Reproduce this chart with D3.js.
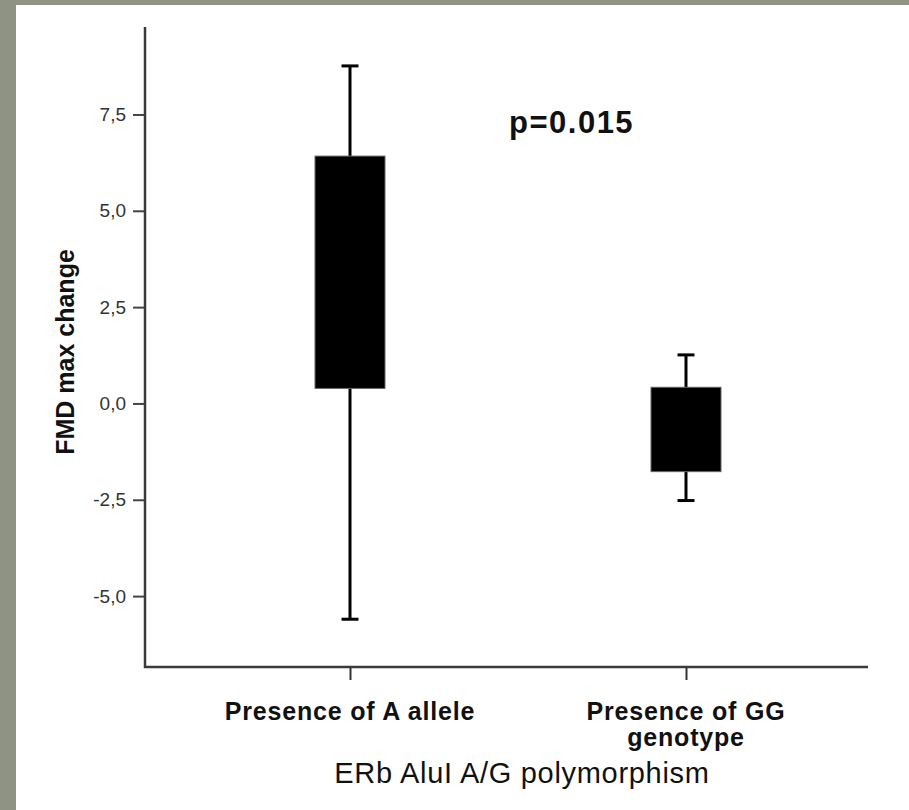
<!DOCTYPE html>
<html>
<head>
<meta charset="utf-8">
<script src="https://cdnjs.cloudflare.com/ajax/libs/d3/7.8.5/d3.min.js"></script>
<style>
  body { margin: 0; padding: 0; background: #8e9383; }
  svg { display: block; }
  .tick text { font-family: "Liberation Sans", Arial, sans-serif; }
</style>
</head>
<body>
<div id="chart"></div>
<script>
// data
var groups = ['Presence of A allele', 'Presence of GG genotype'];
var groupLines = [['Presence of A allele'], ['Presence of GG', 'genotype']];
var whiskerLow = [-5.6, -2.52];
var boxLow = [0.39, -1.77];
var boxHigh = [6.42, 0.42];
var whiskerHigh = [8.76, 1.26];
var yTicks = [-5, -2.5, 0, 2.5, 5, 7.5];
var pLabel = 'p=0.015';

var W = 909, H = 810;
var margin = { top: 27, right: 41, bottom: 143, left: 145 };
var width = W - margin.left - margin.right,
    height = H - margin.top - margin.bottom;

var svg = d3.select('#chart').append('svg')
  .attr('width', W)
  .attr('height', H);

// white panel on the grey frame
svg.append('rect')
  .attr('x', 16).attr('y', 5)
  .attr('width', W - 16).attr('height', H - 5)
  .attr('fill', '#ffffff');

var g = svg.append('g')
  .attr('transform', 'translate(' + margin.left + ',' + margin.top + ')');

var y = d3.scaleLinear().domain([-6.84, 9.77]).range([height, 0]);
var x = d3.scalePoint().domain(groups).range([205, 541]);

// SPSS style: comma decimals, plain hyphen for negatives
var fmt = function(d) { return d3.format('.1f')(d).replace('.', ',').replace('\u2212', '-'); };

// y axis
var yAxis = g.append('g')
  .attr('class', 'axis axis--y')
  .call(d3.axisLeft(y).tickValues(yTicks).tickFormat(fmt).tickSize(12).tickPadding(7));
yAxis.select('.domain').remove();
yAxis.selectAll('.tick line').attr('stroke', '#444').attr('stroke-width', 2);
yAxis.selectAll('.tick text')
  .attr('fill', '#333')
  .style('font-size', '19px');

// x axis
var xAxis = g.append('g')
  .attr('class', 'axis axis--x')
  .attr('transform', 'translate(0,' + height + ')')
  .call(d3.axisBottom(x).tickSize(13).tickFormat(''));
xAxis.select('.domain').remove();
xAxis.selectAll('.tick line').attr('stroke', '#333').attr('stroke-width', 2);

// axis lines (L shape)
g.append('path')
  .attr('d', 'M0,0V' + height + 'H' + width)
  .attr('fill', 'none')
  .attr('stroke', '#3a3a3a')
  .attr('stroke-width', 2.5);

// category labels
groupLines.forEach(function(lines, i) {
  var t = g.append('text')
    .attr('x', x(groups[i]))
    .attr('y', height + 53)
    .attr('text-anchor', 'middle')
    .style('font-family', '"Liberation Sans", Arial, sans-serif')
    .style('font-weight', 'bold')
    .style('font-size', '25px')
    .style('letter-spacing', '0.8px')
    .attr('fill', '#111');
  lines.forEach(function(l, j) {
    t.append('tspan')
      .attr('x', x(groups[i]))
      .attr('dy', j == 0 ? 0 : 26)
      .text(l);
  });
});

// boxes
var boxW = 70, capW = 17;
groups.forEach(function(k, i) {
  var cx = x(k);
  g.append('line')
    .attr('x1', cx).attr('x2', cx)
    .attr('y1', y(whiskerLow[i])).attr('y2', y(whiskerHigh[i]))
    .attr('stroke', '#000').attr('stroke-width', 3);
  [whiskerLow[i], whiskerHigh[i]].forEach(function(v) {
    g.append('line')
      .attr('x1', cx - capW / 2).attr('x2', cx + capW / 2)
      .attr('y1', y(v)).attr('y2', y(v))
      .attr('stroke', '#000').attr('stroke-width', 3);
  });
  g.append('rect')
    .attr('x', cx - boxW / 2)
    .attr('y', y(boxHigh[i]))
    .attr('width', boxW)
    .attr('height', y(boxLow[i]) - y(boxHigh[i]))
    .attr('fill', '#000')
    .attr('stroke', '#666')
    .attr('stroke-width', 1);
});

// p value
g.append('text')
  .attr('x', 364)
  .attr('y', 106)
  .style('font-family', '"Liberation Sans", Arial, sans-serif')
  .style('font-weight', 'bold')
  .style('font-size', '31px')
  .style('letter-spacing', '1.5px')
  .attr('fill', '#111')
  .text(pLabel);

// axis titles
svg.append('text')
  .attr('transform', 'translate(74,' + 352 + ')rotate(-90)')
  .attr('text-anchor', 'middle')
  .style('font-family', '"Liberation Sans", Arial, sans-serif')
  .style('font-weight', 'bold')
  .style('font-size', '25px')
  .attr('fill', '#111')
  .text('FMD max change');

svg.append('text')
  .attr('x', 522)
  .attr('y', 783)
  .attr('text-anchor', 'middle')
  .style('font-family', '"Liberation Sans", Arial, sans-serif')
  .style('font-size', '29px')
  .style('letter-spacing', '0.7px')
  .attr('fill', '#111')
  .text('ERb AluI A/G polymorphism');
</script>
</body>
</html>
